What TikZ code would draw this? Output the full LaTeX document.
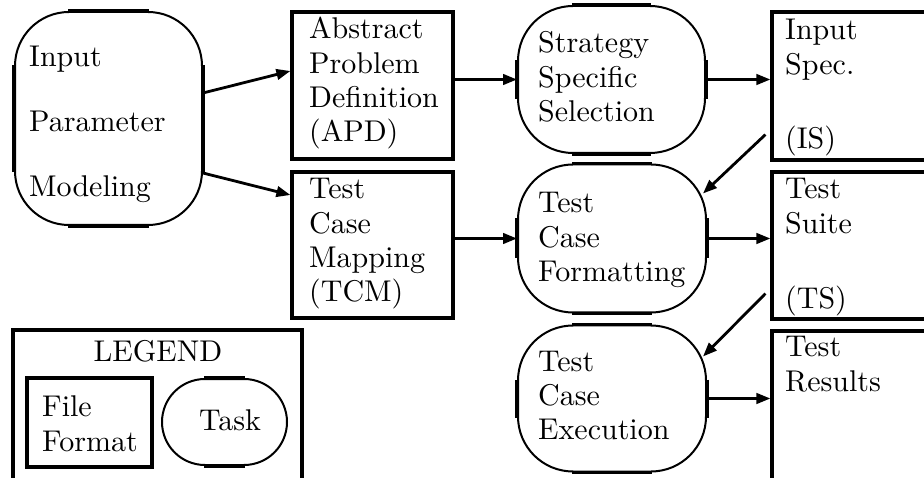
\documentclass[tikz,border=0pt]{standalone}
\usepackage{fontspec}
\setmainfont{lmroman10-regular.otf}
\usetikzlibrary{calc,arrows.meta}

\tikzset{
  filebox/.style={draw, line width=3.2pt, rectangle, inner sep=0pt},
  taskbox/.style={draw, line width=2pt, rectangle, inner sep=0pt, rounded corners=#1},
  txt/.style={anchor=base west, align=left, inner sep=0pt, text width=220pt,
              font=\fontsize{30}{34.3}\selectfont},
  flow/.style={line width=2.8pt, -{Triangle[length=14pt,width=10.5pt]}},
  edge/.style={line width=3.2pt},
}

% thick straight edges of a task outline (arcs stay thin)
\newcommand\taskedges[2]{%
  \draw[edge] ([xshift=#2]#1.north west) -- ([xshift=-#2]#1.north east)
              ([xshift=#2]#1.south west) -- ([xshift=-#2]#1.south east)
              ([yshift=-#2]#1.north west) -- ([yshift=#2]#1.south west)
              ([yshift=-#2]#1.north east) -- ([yshift=#2]#1.south east);}

\begin{document}
\begin{tikzpicture}[x=1pt, y=-1pt]
\useasboundingbox (0,0) rectangle (924,478);
\fill[white] (0,0) rectangle (924,478);
\clip (0,0) rectangle (924,478);

% tasks
\node[taskbox=54pt, minimum width=187pt, minimum height=213pt] (ipm) at (108.5,118.5) {};
\node[taskbox=55pt, minimum width=187pt, minimum height=147pt] (sss) at (611.5,79.5) {};
\node[taskbox=55pt, minimum width=188pt, minimum height=148pt] (tcf) at (612,238.5) {};
\node[taskbox=55pt, minimum width=188pt, minimum height=146pt] (tce) at (612,398.5) {};
\taskedges{ipm}{54pt}
\taskedges{sss}{55pt}
\taskedges{tcf}{55pt}
\taskedges{tce}{55pt}

% file formats
\node[filebox, minimum width=161pt, minimum height=147pt] (apd) at (372.5,85.5) {};
\node[filebox, minimum width=161pt, minimum height=146pt] (tcm) at (372.5,245) {};
\node[filebox, minimum width=228pt, minimum height=148pt] (is) at (886,86) {};
\node[filebox, minimum width=228pt, minimum height=147pt] (ts) at (886,245.5) {};
\node[filebox, minimum width=228pt, minimum height=229pt] (tr) at (886,445.5) {};

% legend
\node[filebox, minimum width=289pt, minimum height=230pt] (legend) at (157.5,445) {};
\node[filebox, minimum width=125pt, minimum height=89pt] (ff) at (89.5,422.5) {};
\node[taskbox=43pt, minimum width=125pt, minimum height=86pt] (task) at (224.5,422) {};
\draw[edge] ([xshift=43pt]task.north west) -- ([xshift=-43pt]task.north east)
            ([xshift=43pt]task.south west) -- ([xshift=-43pt]task.south east);

% texts
\node[txt, font=\fontsize{30}{65}\selectfont] (ipmtext) at (29,67) {Input\\Parameter\\Modeling};
\node[txt] (apdtext) at (309,39) {Abstract\\Problem\\Definition\\(APD)};
\node[txt] (tcmtext) at (309,199) {Test\\Case\\Mapping\\(TCM)};
\node[txt] (ssstext) at (538,53) {Strategy\\Specific\\Selection};
\node[txt] (tcftext) at (538,213) {Test\\Case\\Formatting};
\node[txt] (tcetext) at (538,371) {Test\\Case\\Execution};
\node[txt] (istext) at (785,40) {Input\\Spec.\\[40pt](IS)};
\node[txt] (tstext) at (785,199) {Test\\Suite\\[41pt](TS)};
\node[txt] (trtext) at (785,357) {Test\\Results};
\node[anchor=base, inner sep=0pt, font=\fontsize{30}{34.3}\selectfont] (legtext) at (158,362) {LEGEND};
\node[txt] (fftext) at (42,417) {File\\Format};
\node[anchor=base west, inner sep=0pt, font=\fontsize{30}{34.3}\selectfont] (tasktext) at (199,430) {Task};

% connectors
\draw[flow] ([yshift=25.5pt]ipm.east) -- ([yshift=14.5pt]apd.west);
\draw[flow] ([yshift=-54.5pt]ipm.east) -- ([yshift=50pt]tcm.west);
\draw[flow] (apd.east |- sss.west) -- (sss.west);
\draw[flow] (tcm.east |- tcf.west) -- (tcf.west);
\draw[flow] (sss.east) -- (sss.east -| is.west);
\draw[flow] (tcf.east) -- (tcf.east -| ts.west);
\draw[flow] (tce.east) -- (tce.east -| tr.west);
\draw[flow] ($(is.south west)+(-5,-27)$) -- ($(tcf.north east)+(-4,30)$);
\draw[flow] ($(ts.south west)+(-5,-27)$) -- ($(tce.north east)+(-4,32)$);
\end{tikzpicture}
\end{document}
